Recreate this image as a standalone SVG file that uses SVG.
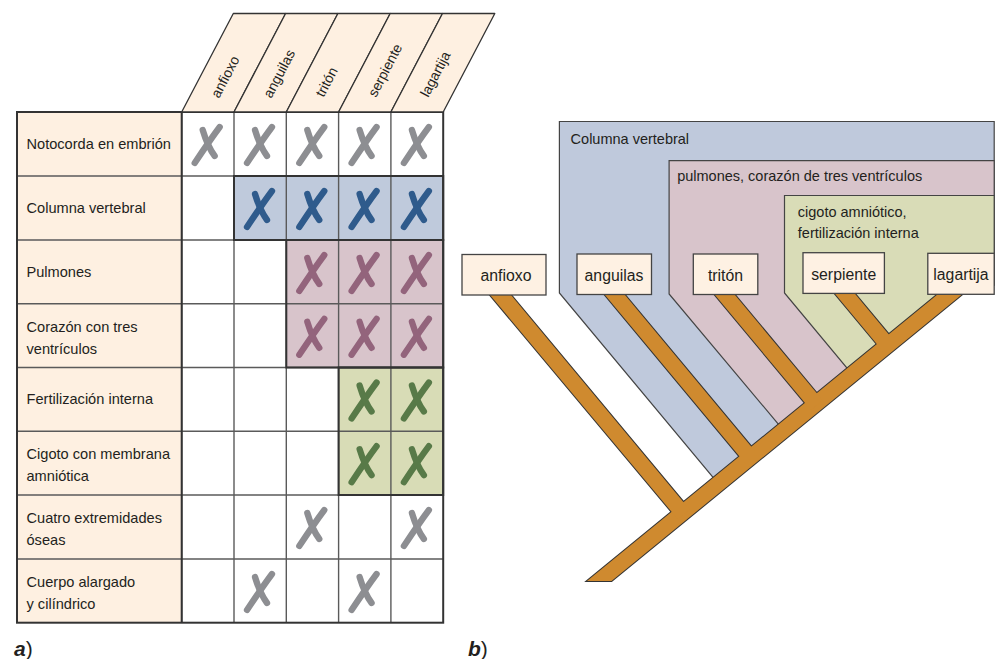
<svg xmlns="http://www.w3.org/2000/svg" width="998" height="659" viewBox="0 0 998 659">
<style>
text{font-family:"Liberation Sans",Arial,sans-serif;fill:#231f20}
.lbl{font-size:14.6px}
.hdr{font-size:14px}
.reg{font-size:14.5px}
.box{font-size:15.8px;text-anchor:middle}
.peach{fill:#fef0e1}
.grid{stroke:#5a5a5a;stroke-width:1.4;fill:none}
.dark{stroke:#333;stroke-width:2;fill:none}
.hpar{fill:#fef0e1;stroke:#333;stroke-width:1.3;stroke-linejoin:round}
.xm{fill:none;stroke-width:6.3;stroke-linecap:round}
.xg{stroke:#8d8e92}.xb{stroke:#2f5b8c}.xp{stroke:#93647c}.xgr{stroke:#587a48}
.cb{fill:#bfcadc}.cp{fill:#d8c4cb}.cg{fill:#d8dcb6}
.rb{fill:#bfc9dc;stroke:#444;stroke-width:1.2}
.rp{fill:#d8c4cb;stroke:#444;stroke-width:1.2}
.rg{fill:#d9dcb7;stroke:#444;stroke-width:1.2}
.tree-o{fill:#cf8a2f;stroke:#333;stroke-width:2;stroke-linejoin:miter}
.tree-f{fill:#cf8a2f;stroke:none}
.nbox{fill:#fef1e3;stroke:#444;stroke-width:1.3}
.tag{font-size:21px;font-weight:bold;font-style:italic}
</style>
<defs>
<g id="xm"><path d="M13,51 C19,42 29,27 38,15"/><path d="M21,18 C24,28 27,36 33,44"/></g>
<g id="treeShape">
<polygon points="587,581 611.5,581 965,292 940.5,292"/>
<polygon points="487.5,292 508.5,292 689.6,509.4 677.7,519.1"/>
<polygon points="602.5,292 622.5,292 757.4,453.9 745.4,463.6"/>
<polygon points="712.5,292 732.5,292 822.7,400.3 810.9,410.1"/>
<polygon points="833.5,292 853.5,292 894.7,341.4 882.8,351.2"/>
</g>
</defs>

<g id="table">
<rect class="peach" x="17" y="112" width="164.7" height="510.7"/>
<rect x="181.7" y="112" width="261.5" height="510.7" fill="#fff"/>
<rect class="cb" x="234" y="176" width="209.2" height="64"/>
<rect class="cp" x="286.3" y="240" width="156.9" height="127.5"/>
<rect class="cg" x="338.6" y="367.5" width="104.6" height="127.5"/>
<g class="grid">
<line x1="181.7" y1="112" x2="181.7" y2="622.7"/>
<line x1="234" y1="112" x2="234" y2="622.7"/>
<line x1="286.3" y1="112" x2="286.3" y2="622.7"/>
<line x1="338.6" y1="112" x2="338.6" y2="622.7"/>
<line x1="390.9" y1="112" x2="390.9" y2="622.7"/>
<line x1="17" y1="176" x2="443.2" y2="176"/>
<line x1="17" y1="240" x2="443.2" y2="240"/>
<line x1="17" y1="303.8" x2="443.2" y2="303.8"/>
<line x1="17" y1="367.5" x2="443.2" y2="367.5"/>
<line x1="17" y1="431.2" x2="443.2" y2="431.2"/>
<line x1="17" y1="495" x2="443.2" y2="495"/>
<line x1="17" y1="559" x2="443.2" y2="559"/>
</g>
<g class="dark">
<rect x="234" y="176" width="209.2" height="64"/>
<rect x="286.3" y="240" width="156.9" height="127.5"/>
<rect x="338.6" y="367.5" width="104.6" height="127.5"/>
<line x1="181.7" y1="112" x2="181.7" y2="622.7"/>
<rect x="17" y="112" width="426.2" height="510.7"/>
</g>
<g id="header">
<polygon class="hpar" points="181.7,112 234,112 285.6,13.5 233.3,13.5"/>
<polygon class="hpar" points="234,112 286.3,112 337.9,13.5 285.6,13.5"/>
<polygon class="hpar" points="286.3,112 338.6,112 390.2,13.5 337.9,13.5"/>
<polygon class="hpar" points="338.6,112 390.9,112 442.5,13.5 390.2,13.5"/>
<polygon class="hpar" points="390.9,112 443.2,112 494.8,13.5 442.5,13.5"/>
<text class="hdr" transform="translate(219,99) rotate(-62.35)">anfioxo</text>
<text class="hdr" transform="translate(271.3,99) rotate(-62.35)">anguilas</text>
<text class="hdr" transform="translate(323.6,98) rotate(-62.35)">tritón</text>
<text class="hdr" transform="translate(375.9,98) rotate(-62.35)">serpiente</text>
<text class="hdr" transform="translate(428.2,98) rotate(-62.35)">lagartija</text>
</g>
<g id="rowlabels">
<text class="lbl" x="26.5" y="149">Notocorda en embrión</text>
<text class="lbl" x="26.5" y="213">Columna vertebral</text>
<text class="lbl" x="26.5" y="277">Pulmones</text>
<text class="lbl" x="26.5" y="331.7">Corazón con tres<tspan x="26.5" y="353.7">ventrículos</tspan></text>
<text class="lbl" x="26.5" y="404.4">Fertilización interna</text>
<text class="lbl" x="26.5" y="459.1">Cigoto con membrana<tspan x="26.5" y="481.1">amniótica</tspan></text>
<text class="lbl" x="26.5" y="523">Cuatro extremidades<tspan x="26.5" y="545">óseas</tspan></text>
<text class="lbl" x="26.5" y="586.9">Cuerpo alargado<tspan x="26.5" y="608.9">y cilíndrico</tspan></text>
</g>
<g id="marks">
<use href="#xm" class="xm xg" x="181.7" y="112"/>
<use href="#xm" class="xm xg" x="234" y="112"/>
<use href="#xm" class="xm xg" x="286.3" y="112"/>
<use href="#xm" class="xm xg" x="338.6" y="112"/>
<use href="#xm" class="xm xg" x="390.9" y="112"/>
<use href="#xm" class="xm xb" x="234" y="176"/>
<use href="#xm" class="xm xb" x="286.3" y="176"/>
<use href="#xm" class="xm xb" x="338.6" y="176"/>
<use href="#xm" class="xm xb" x="390.9" y="176"/>
<use href="#xm" class="xm xp" x="286.3" y="240"/>
<use href="#xm" class="xm xp" x="338.6" y="240"/>
<use href="#xm" class="xm xp" x="390.9" y="240"/>
<use href="#xm" class="xm xp" x="286.3" y="303.8"/>
<use href="#xm" class="xm xp" x="338.6" y="303.8"/>
<use href="#xm" class="xm xp" x="390.9" y="303.8"/>
<use href="#xm" class="xm xgr" x="338.6" y="367.5"/>
<use href="#xm" class="xm xgr" x="390.9" y="367.5"/>
<use href="#xm" class="xm xgr" x="338.6" y="431.2"/>
<use href="#xm" class="xm xgr" x="390.9" y="431.2"/>
<use href="#xm" class="xm xg" x="286.3" y="495"/>
<use href="#xm" class="xm xg" x="390.9" y="495"/>
<use href="#xm" class="xm xg" x="234" y="559"/>
<use href="#xm" class="xm xg" x="338.6" y="559"/>
</g>
</g>

<g id="regions">
<polygon class="rb" points="559.4,121.5 994.2,121.5 994.2,285 963.7,285 719.3,485 559.4,293"/>
<polygon class="rp" points="669.1,160.7 994.2,160.7 994.2,285 963.7,285 784.6,431.6 669.1,294"/>
<polygon class="rg" points="784.5,195.5 994.2,195.5 994.2,285 963.7,285 853.1,375.4 784.5,293"/>
<text class="reg" x="570.6" y="144">Columna vertebral</text>
<text class="reg" x="677.2" y="181">pulmones, corazón de tres ventrículos</text>
<text class="reg" x="797.8" y="217">cigoto amniótico,</text>
<text class="reg" x="797.8" y="238">fertilización interna</text>
</g>

<g id="connectors">
<use href="#treeShape" class="tree-o"/>
<use href="#treeShape" class="tree-f"/>
</g>

<g id="node-anfioxo"><rect class="nbox" x="462" y="254.5" width="84" height="40.5"/><text class="box" x="506" y="281">anfioxo</text></g>
<g id="node-anguilas"><rect class="nbox" x="577" y="254" width="74.5" height="40.5"/><text class="box" x="614" y="281">anguilas</text></g>
<g id="node-triton"><rect class="nbox" x="693.3" y="254" width="64.5" height="40.5"/><text class="box" x="725.5" y="281">tritón</text></g>
<g id="node-serpiente"><rect class="nbox" x="803" y="252.7" width="81.4" height="40.7"/><text class="box" x="843.7" y="280">serpiente</text></g>
<g id="node-lagartija"><rect class="nbox" x="927.8" y="253.3" width="66.4" height="41"/><text class="box" x="961" y="280">lagartija</text></g>

<text class="tag" x="14" y="656">a<tspan style="font-weight:normal;font-style:normal">)</tspan></text>
<text class="tag" x="468" y="656">b<tspan style="font-weight:normal;font-style:normal">)</tspan></text>
</svg>
